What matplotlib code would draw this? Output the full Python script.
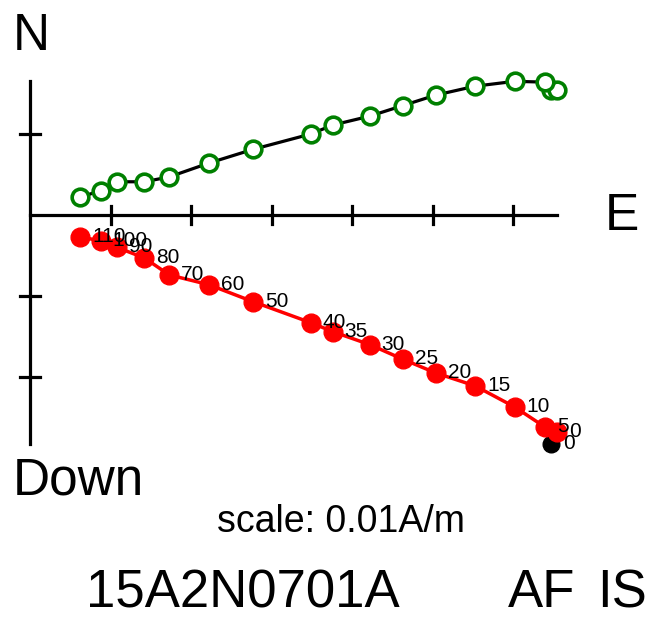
import matplotlib
matplotlib.use("Agg")
import matplotlib.pyplot as plt

plt.rcParams['font.family'] = ['Liberation Sans', 'DejaVu Sans']

# demag steps (mT), first one is the highlighted NRM point
steps = ['0', '0', '5', '10', '15', '20', '25', '30', '35', '40',
         '50', '60', '70', '80', '90', '100', '110']
# components in A/m
east = [0.0647, 0.0655, 0.0640, 0.0602, 0.0553, 0.0504, 0.0463, 0.0422, 0.0376,
        0.0349, 0.0277, 0.0222, 0.0173, 0.0142, 0.0108, 0.0088, 0.0062]
north = [0.0154, 0.0154, 0.0164, 0.0165, 0.0159, 0.0148, 0.0135, 0.0122, 0.0111,
         0.0100, 0.0081, 0.0064, 0.0047, 0.0041, 0.0041, 0.0030, 0.0022]
down = [0.0283, 0.0268, 0.0262, 0.0237, 0.0211, 0.0195, 0.0178, 0.0160, 0.0144,
        0.0133, 0.0107, 0.0086, 0.0074, 0.0053, 0.0040, 0.0032, 0.0027]
tick = 0.01
specimen = '15A2N0701A'
demag = 'AF'
coords = 'IS'

fig = plt.figure(figsize=(6.48, 6.17), dpi=100)
ax = fig.add_axes([0, 0, 1, 1])
ax.set_xlim(-0.00373, 0.07677)
ax.set_ylim(-0.04963, 0.02654)
ax.axis('off')

up = [-d for d in down]

# axes through the origin, length set by the data
emax = max(east)
nmax = max(north)
dmax = max(down)
ax.plot([0, emax], [0, 0], color='black', lw=2.3, zorder=1)
ax.plot([0, 0], [-dmax, nmax], color='black', lw=2.3, zorder=1)
t = tick
while t < emax:
    ax.plot([t, t], [-0.0011, 0.0011], color='black', lw=2.3, zorder=1)
    t += tick
t = tick
while t < nmax:
    ax.plot([-0.00125, 0.00125], [t, t], color='black', lw=2.3, zorder=1)
    t += tick
t = tick
while t < dmax:
    ax.plot([-0.00125, 0.00125], [-t, -t], color='black', lw=2.3, zorder=1)
    t += tick

# horizontal projection (N vs E)
ax.plot(east, north, color='black', lw=2.3, zorder=2)
ax.plot(east, north, 'o', ms=12, mfc='white', mec='green', mew=2.6, zorder=3)

# vertical projection (Down vs E)
ax.plot(east[0], up[0], 'o', ms=12, color='black', zorder=3)
ax.plot(east[1:], up[1:], color='red', lw=2.5, zorder=4)
ax.plot(east[1:], up[1:], 'o', ms=13.5, color='red', zorder=5)

for i in range(len(steps)):
    ax.annotate(steps[i], (east[i], up[i]), xytext=(12, -5), textcoords='offset pixels',
                ha='left', va='baseline', fontsize=15, zorder=6)

fig.text(0.020, 0.919, 'N', fontsize=37, va='baseline', ha='left')
fig.text(0.934, 0.627, 'E', fontsize=37, va='baseline', ha='left')
fig.text(0.020, 0.198, 'Down', fontsize=37, va='baseline', ha='left')
fig.text(0.335, 0.138, 'scale: %gA/m' % tick, fontsize=27, va='baseline', ha='left')
fig.text(0.133, 0.016, specimen, fontsize=38, va='baseline', ha='left')
fig.text(0.784, 0.016, demag, fontsize=38, va='baseline', ha='left')
fig.text(0.921, 0.016, coords, fontsize=38, va='baseline', ha='left')

fig.savefig('out.png', dpi=100)
